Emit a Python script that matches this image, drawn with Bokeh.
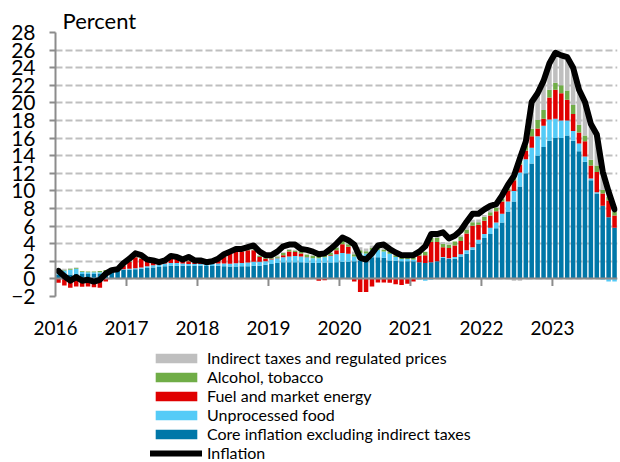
from bokeh.plotting import figure
from bokeh.layouts import column
from bokeh.models import Range1d, FixedTicker, Legend, LegendItem, ColumnDataSource
from bokeh.embed import file_html
from bokeh.resources import INLINE

# ---------------- data (monthly, Jan 2016 - Nov 2023) ----------------
years = ["2016", "2017", "2018", "2019", "2020", "2021", "2022", "2023"]

inflation = [
    0.9, 0.3, -0.2, 0.2, -0.2, -0.1, -0.3, -0.1, 0.6, 1.0, 1.1, 1.8,
    2.3, 2.9, 2.7, 2.2, 2.1, 1.9, 2.1, 2.6, 2.5, 2.2, 2.5, 2.1,
    2.1, 1.9, 2.0, 2.3, 2.8, 3.1, 3.4, 3.4, 3.6, 3.8, 3.1, 2.7,
    2.7, 3.1, 3.7, 3.9, 3.9, 3.4, 3.3, 3.1, 2.8, 2.9, 3.4, 4.0,
    4.7, 4.4, 3.9, 2.4, 2.2, 2.9, 3.8, 3.9, 3.4, 3.0, 2.7, 2.7,
    2.7, 3.1, 3.7, 5.1, 5.1, 5.3, 4.6, 4.9, 5.5, 6.5, 7.4, 7.4,
    7.9, 8.3, 8.5, 9.5, 10.7, 11.7, 13.7, 15.6, 20.1, 21.1, 22.5, 24.5,
    25.7, 25.4, 25.2, 24.0, 21.5, 20.1, 17.6, 16.4, 12.2, 9.9, 7.9,
]

core = [
    0.5, 0.5, 0.5, 0.55, 0.55, 0.55, 0.55, 0.6, 0.7, 0.8, 0.95, 1.0,
    1.05, 1.1, 1.15, 1.25, 1.3, 1.35, 1.45, 1.5, 1.5, 1.5, 1.5, 1.5,
    1.5, 1.48, 1.48, 1.5, 1.45, 1.42, 1.42, 1.45, 1.45, 1.5, 1.5, 1.6,
    1.7, 1.8, 1.9, 1.9, 1.9, 1.9, 1.85, 1.8, 1.8, 1.85, 1.85, 1.9,
    1.95, 1.95, 2.0, 2.05, 2.2, 2.45, 2.45, 2.4, 2.1, 2.05, 2.0, 2.0,
    2.0, 1.9, 1.8, 1.9, 2.0, 2.4, 2.3, 2.3, 2.55, 2.85, 3.3, 4.0,
    4.66, 5.1, 5.75, 6.4, 7.65, 8.8, 10.5, 12.0, 13.1, 14.0, 15.0, 15.7,
    16.0, 16.0, 16.3, 15.7, 14.5, 13.3, 11.2, 9.7, 8.3, 7.0, 5.8,
]

food = [
    0.5, 0.45, 0.55, 0.6, 0.25, 0.2, 0.2, 0.15, 0.15, 0.1, 0.1, 0.1,
    0.1, 0.1, 0.15, 0.2, 0.25, 0.3, 0.3, 0.3, 0.3, 0.25, 0.2, 0.2,
    0.2, 0.2, 0.2, 0.25, 0.3, 0.3, 0.35, 0.35, 0.4, 0.45, 0.45, 0.4,
    0.5, 0.55, 0.55, 0.65, 0.7, 0.65, 0.6, 0.55, 0.55, 0.6, 0.75, 0.9,
    1.0, 0.9, 0.55, 0.9, 0.7, 0.8, 0.87, 0.7, 0.75, 0.45, 0.27, 0.27,
    0.2, -0.1, -0.2, -0.1, 0.0, 0.1, 0.05, 0.2, 0.25, 0.4, 0.3, 0.45,
    0.45, 0.7, 0.65, 1.0, 1.15, 1.2, 1.6, 1.6, 1.8, 2.2, 2.4, 2.4,
    2.2, 2.0, 1.7, 1.1, 0.9, 0.6, 0.2, 0.15, -0.1, -0.3, -0.3,
]

fuel = [
    -0.45, -0.75, -1.0, -0.85, -0.9, -0.85, -0.95, -1.0, -0.3, 0.05, 0.1, 0.4,
    0.8, 1.25, 1.0, 0.6, 0.45, 0.35, 0.45, 0.5, 0.45, 0.35, 0.3, 0.1,
    0.1, 0.05, 0.1, 0.35, 0.75, 1.3, 1.3, 1.3, 1.4, 1.3, 0.55, 0.3,
    0.1, 0.05, 0.25, 0.55, 0.45, 0.35, 0.05, 0.0, -0.2, -0.15, 0.1, 0.45,
    1.0, 0.8, -0.3, -1.5, -1.5, -0.85, -0.4, -0.4, -0.45, -0.6, -0.7, -0.55,
    -0.3, 0.75, 0.9, 2.3, 2.2, 1.1, 1.15, 1.3, 1.5, 1.9, 2.45, 1.7,
    1.5, 1.4, 1.3, 1.4, 1.25, 1.2, 0.9, 1.0, 1.3, 0.9, 0.8, 2.5,
    3.3, 3.1, 2.35, 1.95, 1.25, 1.75, 1.5, 2.3, 1.4, 1.9, 1.4,
]

alcohol = [
    0.15, 0.1, 0.1, 0.1, 0.1, 0.1, 0.1, 0.15, 0.15, 0.1, 0.05, 0.05,
    0.05, 0.05, 0.05, 0.05, 0.05, 0.05, 0.05, 0.05, 0.05, 0.05, 0.05, 0.05,
    0.05, 0.05, 0.05, 0.05, 0.05, 0.05, 0.05, 0.05, 0.1, 0.1, 0.1, 0.1,
    0.1, 0.15, 0.23, 0.2, 0.15, 0.2, 0.27, 0.27, 0.23, 0.3, 0.23, 0.3,
    0.4, 0.3, 0.25, 0.3, 0.25, 0.25, 0.2, 0.25, 0.2, 0.2, 0.15, 0.15,
    0.2, 0.38, 0.38, 0.45, 0.45, 0.38, 0.38, 0.45, 0.45, 0.45, 0.38, 0.3,
    0.45, 0.38, 0.38, 0.3, 0.2, 0.3, 0.5, 0.6, 0.87, 0.95, 1.0, 0.9,
    0.8, 0.9, 1.05, 1.0, 0.87, 0.65, 0.65, 0.75, 0.4, 0.4, 0.4,
]

indirect = [
    0.1, 0.1, 0.05, 0.05, 0.0, 0.0, 0.0, 0.0, 0.0, 0.0, 0.0, 0.0,
    0.0, 0.0, 0.0, 0.0, 0.0, 0.0, 0.0, 0.0, 0.0, 0.0, 0.0, 0.0,
    0.0, 0.0, 0.0, 0.0, 0.0, 0.0, 0.0, 0.0, 0.0, 0.1, 0.1, 0.1,
    0.1, 0.1, 0.1, 0.1, 0.1, 0.1, 0.1, 0.1, 0.1, 0.1, 0.1, 0.1,
    0.3, 0.3, 0.3, 0.35, 0.3, 0.3, 0.2, 0.2, 0.2, 0.1, 0.1, 0.1,
    0.0, 0.0, 0.0, 0.2, 0.2, 0.2, 0.0, 0.0, 0.2, 0.3, 0.3, 0.3,
    0.2, 0.3, 0.3, 0.4, 0.45, -0.2, -0.2, 0.4, 3.0, 3.0, 3.3, 3.0,
    3.4, 3.4, 3.8, 4.25, 4.0, 3.8, 4.0, 3.5, 2.1, 0.9, 0.4,
]

# ---------------- styling ----------------
FONT = "Lato"
GRID = "#BFBFBF"
AXIS = "#8C8C8C"

series = [
    ("Core inflation excluding indirect taxes", core, "#0077A8"),
    ("Unprocessed food", food, "#55CBF7"),
    ("Fuel and market energy", fuel, "#E00000"),
    ("Alcohol, tobacco", alcohol, "#70AD47"),
    ("Indirect taxes and regulated prices", indirect, "#BFBFBF"),
]

n = len(inflation)
xs = [i + 0.5 for i in range(n)]

p = figure(width=620, height=338, output_backend="svg", toolbar_location=None,
           x_range=Range1d(0, 95), y_range=Range1d(-2, 28),
           min_border_left=55, min_border_right=3, min_border_top=32,
           min_border_bottom=42, title="Percent")
p.outline_line_color = None
p.background_fill_color = "white"
p.title.align = "left"
p.title.offset = 7
p.title.standoff = -2
p.title.text_font = FONT
p.title.text_font_size = "22px"
p.title.text_font_style = "normal"
p.title.text_color = "black"

p.xgrid.grid_line_color = None
p.ygrid.grid_line_color = GRID
p.ygrid.grid_line_width = 2
p.ygrid.grid_line_dash = "7 3"
p.ygrid.ticker = FixedTicker(ticks=list(range(-2, 29, 2)))

# y axis
p.yaxis.ticker = FixedTicker(ticks=list(range(-2, 29, 2)))
p.yaxis.axis_line_color = AXIS
p.yaxis.axis_line_width = 2
p.yaxis.major_tick_line_color = AXIS
p.yaxis.major_tick_line_width = 2
p.yaxis.major_tick_out = 6
p.yaxis.major_tick_in = 0
p.yaxis.minor_tick_line_color = None
p.yaxis.major_label_text_font = FONT
p.yaxis.major_label_text_font_size = "21px"
p.yaxis.major_label_text_color = "black"
p.yaxis.major_label_standoff = 14

# x axis (labels only; the axis line is drawn at zero)
tick_pos = [12 * k for k in range(len(years))]
p.xaxis.ticker = FixedTicker(ticks=tick_pos)
p.xaxis.major_label_overrides = {t: yv for t, yv in zip(tick_pos, years)}
p.xaxis.axis_line_color = None
p.xaxis.major_tick_line_color = None
p.xaxis.minor_tick_line_color = None
p.xaxis.major_label_text_font = FONT
p.xaxis.major_label_text_font_size = "19px"
p.xaxis.major_label_text_color = "black"
p.xaxis.major_label_standoff = 18

# ---------------- legend strip (below the chart) ----------------
lg = figure(width=620, height=124, output_backend="svg", toolbar_location=None,
            x_range=Range1d(0, 1), y_range=Range1d(1000, 1001),
            x_axis_location=None, y_axis_location=None,
            min_border_left=0, min_border_right=0, min_border_top=0,
            min_border_bottom=0)
lg.outline_line_color = None
lg.xgrid.grid_line_color = None
lg.ygrid.grid_line_color = None

# stacked bars (positives stack up, negatives stack down)
pos = [0.0] * n
neg = [0.0] * n
legend_r = {}
for name, vals, color in series:
    bottoms, tops = [], []
    for i, v in enumerate(vals):
        if v >= 0:
            bottoms.append(pos[i]); tops.append(pos[i] + v); pos[i] += v
        else:
            bottoms.append(neg[i]); tops.append(neg[i] + v); neg[i] += v
    src = ColumnDataSource(dict(x=xs, bottom=bottoms, top=tops))
    p.vbar(x="x", bottom="bottom", top="top", width=0.76,
           source=src, fill_color=color, line_color=None)
    # same source in the legend strip (outside its visible range) for the key
    legend_r[name] = lg.vbar(x="x", bottom="bottom", top="top", width=0.76,
                             source=src, fill_color=color, line_color=None)

# zero axis line and its year ticks
p.hspan(y=[0], line_color=AXIS, line_width=2)
p.segment(x0=tick_pos[1:], x1=tick_pos[1:], y0=[0] * (len(tick_pos) - 1),
          y1=[-0.8] * (len(tick_pos) - 1), line_color=AXIS, line_width=2)

line_src = ColumnDataSource(dict(x=xs, y=inflation))
p.line(x="x", y="y", source=line_src, line_color="black", line_width=6,
       line_join="round", line_cap="round")
rl = lg.line(x="x", y="y", source=line_src, line_color="black",
             line_width=6, line_cap="round")

items = [LegendItem(label=name, renderers=[legend_r[name]])
         for name, _, _ in reversed(series)]
items.append(LegendItem(label="Inflation", renderers=[rl]))

legend = Legend(items=items, location=(95, 0), orientation="vertical",
                padding=0, margin=0, border_line_color=None,
                background_fill_alpha=0, glyph_width=52, glyph_height=12,
                label_standoff=5, spacing=0, label_height=17,
                label_text_font=FONT, label_text_font_size="16px",
                label_text_color="black")
lg.add_layout(legend)

open("out.html", "w").write(file_html(column(p, lg), INLINE))
